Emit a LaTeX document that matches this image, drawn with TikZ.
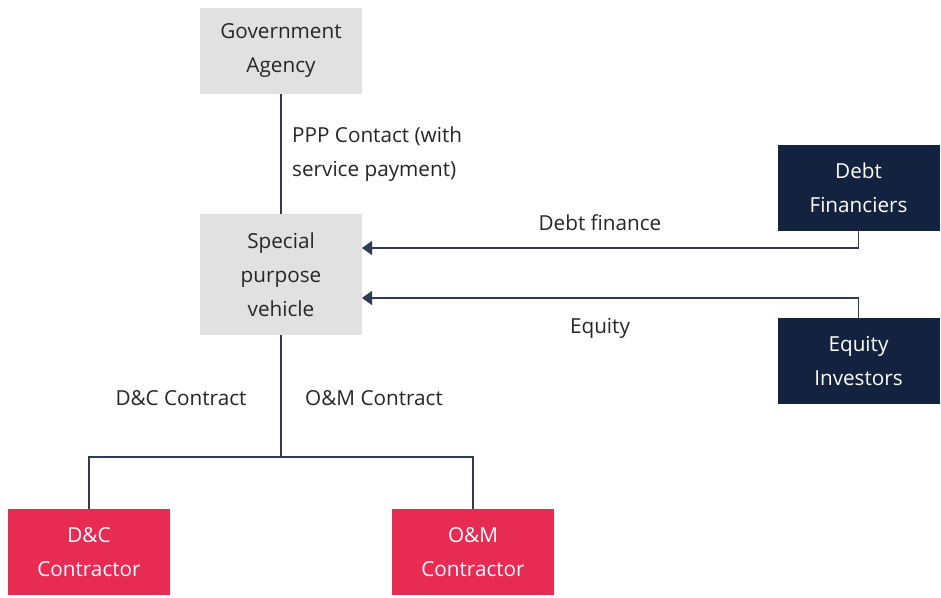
\documentclass[tikz,border=0pt]{standalone}
\usepackage{fontspec}
\setmainfont{Open Sans}
\usetikzlibrary{arrows.meta}
\definecolor{boxgray}{HTML}{E1E1E1}
\definecolor{navy}{HTML}{13233F}
\definecolor{crimson}{HTML}{E72B52}
\definecolor{linec}{HTML}{2E3B52}
\definecolor{txt}{HTML}{262626}
\begin{document}
\begin{tikzpicture}[x=1pt,y=-1pt,
  box/.style={minimum width=162pt,minimum height=86pt,inner sep=0pt,align=center,
    font=\fontsize{20.7}{34}\selectfont},
  graybox/.style={box,fill=boxgray,text=txt},
  navybox/.style={box,fill=navy,text=white},
  redbox/.style={box,fill=crimson,text=white},
  lbl/.style={font=\fontsize{20.7}{34}\selectfont,text=txt,inner sep=0pt},
  conn/.style={draw=linec,line width=1.3pt},
  arr/.style={conn,-{Triangle[length=10pt,width=14pt]}}]
\useasboundingbox (0,0) rectangle (941,597);
\node[graybox] (gov) at (281,50.5) {Government\\Agency};
\node[graybox,minimum height=121pt] (spv) at (281,274.5) {Special\\purpose\\vehicle};
\node[navybox] (debt) at (858.5,188) {Debt\\Financiers};
\node[navybox] (eq) at (858.5,361) {Equity\\Investors};
\node[redbox] (dc) at (89,552) {D\&C\\Contractor};
\node[redbox] (om) at (473,552) {O\&M\\Contractor};
\coordinate (split) at (281,457);
\draw[conn] (gov.south) -- (spv.north);
\draw[conn] (spv.south) -- (split);
\draw[conn] (split) -| (dc.north);
\draw[conn] (split) -| (om.north);
\draw[arr] (debt.south) |- (362,248);
\draw[arr] (eq.north) |- (362,298);
\node[lbl,anchor=west,align=left] (ppp) at (292,154) {PPP Contact (with\\service payment)};
\node[lbl] (dfl) at (600,223) {Debt finance};
\node[lbl] (eql) at (600,328) {Equity};
\node[lbl] (dcl) at (181,398) {D\&C Contract};
\node[lbl] (oml) at (374,398) {O\&M Contract};
\end{tikzpicture}
\end{document}
